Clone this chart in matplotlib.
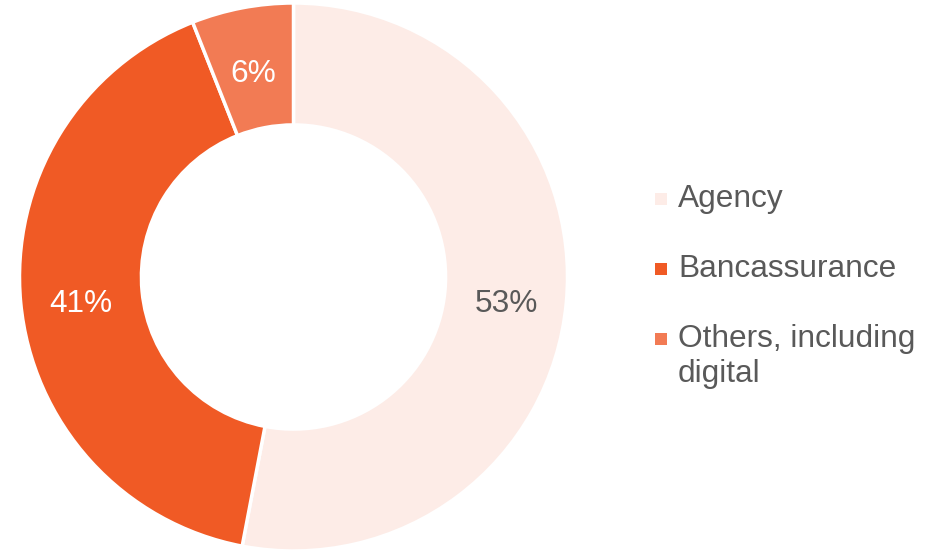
import matplotlib
matplotlib.use("Agg")
import matplotlib.pyplot as plt
from matplotlib.patches import Rectangle

categories = ["Agency", "Bancassurance", "Others, including\ndigital"]
shares = [53, 41, 6]
colors = ["#FDECE7", "#F05A25", "#F27B54"]
pct_colors = ["#595959", "#FFFFFF", "#FFFFFF"]

plt.rcParams["font.family"] = ["Liberation Sans", "DejaVu Sans"]

W, H = 925, 550
fig = plt.figure(figsize=(W / 100, H / 100), dpi=100)

# donut axes: centre (293, 277) px, outer radius ~274 px
cx, cy, r = 293.5, 277, 274
ax = fig.add_axes([(cx - r) / W, (H - cy - r) / H, 2 * r / W, 2 * r / H])
wedges, _, autotexts = ax.pie(
    shares,
    colors=colors,
    startangle=90,
    counterclock=False,
    radius=1,
    autopct=lambda p: f"{p:.0f}%",
    pctdistance=0.78,
    wedgeprops=dict(width=0.445, edgecolor="white", linewidth=2.5),
    textprops=dict(fontsize=22.8),
)
for t, c in zip(autotexts, pct_colors):
    t.set_color(c)
    x, y = t.get_position()
    t.set_position((x, y - 0.024))
ax.set_xlim(-1, 1)
ax.set_ylim(-1, 1)
ax.set_aspect("equal")
ax.axis("off")

# legend drawn by hand: square marker beside the first line of each label
text_color = "#595959"
baselines = [207, 277, 347]
line_step = 35
for label, col, yb in zip(categories, colors, baselines):
    msize = 12
    ymid = yb - 8
    fig.patches.append(Rectangle((655 / W, (H - ymid - msize / 2) / H),
                                 msize / W, msize / H,
                                 transform=fig.transFigure, facecolor=col,
                                 edgecolor="none"))
    for i, line in enumerate(label.split("\n")):
        fig.text(678 / W, (H - (yb + i * line_step)) / H, line,
                 fontsize=22.8, color=text_color, ha="left", va="baseline")

fig.savefig("out.png", dpi=100, facecolor="white")
